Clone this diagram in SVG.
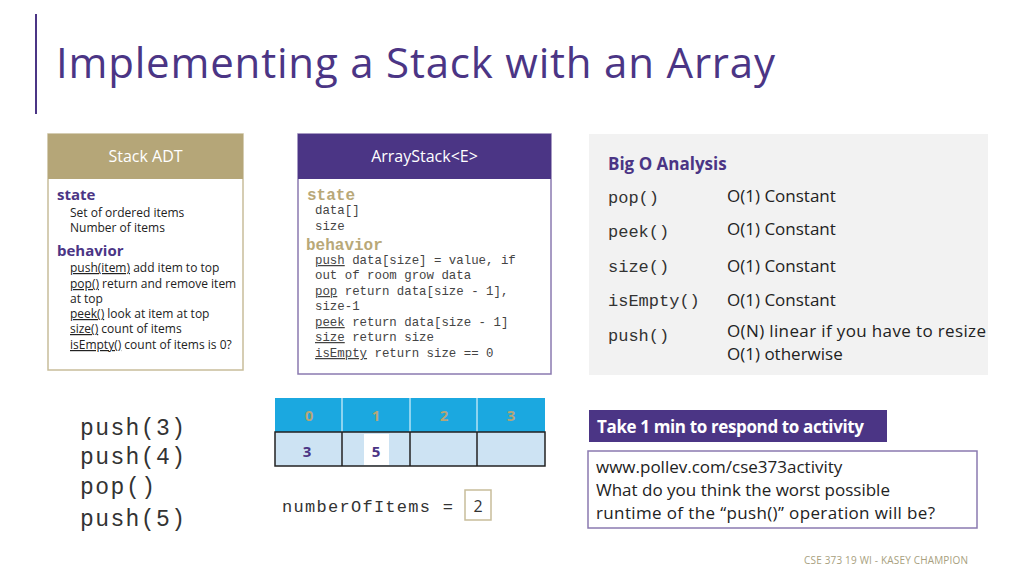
<svg xmlns="http://www.w3.org/2000/svg" width="1024" height="576" viewBox="0 0 1024 576">
<style>
.s{font-family:"Open Sans","Liberation Sans",sans-serif}
.m{font-family:"Liberation Mono",monospace}
.h{font-size:16px;fill:#fff}
.p{fill:#4b3585;font-weight:bold}
.t{font-size:12px;fill:#222}
.c{font-size:12.4px;fill:#444}
.g{fill:#b8a878;font-weight:bold;font-size:16px}
.bo{font-size:17px;fill:#222}
.bm{font-size:17px;fill:#333}
.big{font-size:23px;fill:#333}
</style>
<rect width="1024" height="576" fill="#fff"/>
<line x1="36" y1="14" x2="36" y2="114" stroke="#4b3585" stroke-width="2"/>
<text x="56" y="78" class="s" font-size="42" fill="#4b3585" textLength="719">Implementing a Stack with an Array</text>
<g id="stackADT">
<rect x="48" y="134" width="195" height="236" fill="#fff" stroke="#c8bd9a" stroke-width="1.5"/>
<rect x="48" y="134" width="195" height="45" fill="#b5a678"/>
<text x="145.5" y="162" class="s h" text-anchor="middle">Stack ADT</text>
<text x="57" y="200" class="s p" font-size="15">state</text>
<text x="70" y="217" class="s t">Set of ordered items</text>
<text x="70" y="232" class="s t">Number of items</text>
<text x="57" y="256" class="s p" font-size="15">behavior</text>
<g class="s t">
<text x="70" y="272"><tspan text-decoration="underline">push(item)</tspan> add item to top</text>
<text x="70" y="288"><tspan text-decoration="underline">pop()</tspan> return and remove item</text>
<text x="70" y="303">at top</text>
<text x="70" y="318"><tspan text-decoration="underline">peek()</tspan> look at item at top</text>
<text x="70" y="333"><tspan text-decoration="underline">size()</tspan> count of items</text>
<text x="70" y="349"><tspan text-decoration="underline">isEmpty()</tspan> count of items is 0?</text>
</g>
</g>
<g id="arrayStack">
<rect x="298" y="134" width="253" height="240" fill="#fff" stroke="#8a7ab0" stroke-width="1.5"/>
<rect x="298" y="134" width="253" height="45" fill="#4b3585"/>
<text x="424.5" y="162" class="s h" text-anchor="middle">ArrayStack&lt;E&gt;</text>
<text x="307" y="200" class="m g">state</text>
<text x="315" y="214" class="m c">data[]</text>
<text x="315" y="230" class="m c">size</text>
<text x="306" y="250" class="m g">behavior</text>
<g class="m c">
<text x="315" y="264"><tspan text-decoration="underline">push</tspan> data[size] = value, if</text>
<text x="315" y="279">out of room grow data</text>
<text x="315" y="295"><tspan text-decoration="underline">pop</tspan> return data[size - 1],</text>
<text x="315" y="310">size-1</text>
<text x="315" y="326"><tspan text-decoration="underline">peek</tspan> return data[size - 1]</text>
<text x="315" y="341"><tspan text-decoration="underline">size</tspan> return size</text>
<text x="315" y="357"><tspan text-decoration="underline">isEmpty</tspan> return size == 0</text>
</g>
</g>
<g id="bigO">
<rect x="589" y="134" width="399" height="241" fill="#f2f2f2"/>
<text x="608" y="170" class="s p" font-size="17">Big O Analysis</text>
<text x="608" y="203" class="m bm">pop()</text>
<text x="608" y="237" class="m bm">peek()</text>
<text x="608" y="272" class="m bm">size()</text>
<text x="608" y="306" class="m bm">isEmpty()</text>
<text x="608" y="341" class="m bm">push()</text>
<text x="727" y="202" class="s bo">O(1) Constant</text>
<text x="727" y="235" class="s bo">O(1) Constant</text>
<text x="727" y="272" class="s bo">O(1) Constant</text>
<text x="727" y="306" class="s bo">O(1) Constant</text>
<text x="727" y="337" class="s bo" textLength="259">O(N) linear if you have to resize</text>
<text x="727" y="360" class="s bo">O(1) otherwise</text>
</g>
<g id="ops" class="m big">
<text x="80" y="435" textLength="105">push(3)</text>
<text x="80" y="464" textLength="105">push(4)</text>
<text x="80" y="494" textLength="75">pop()</text>
<text x="80" y="526" textLength="105">push(5)</text>
</g>
<g id="array">
<rect x="275" y="398" width="270" height="34" fill="#1ba8e0"/>
<g stroke="#fff" stroke-width="1"><line x1="342" y1="398" x2="342" y2="432"/><line x1="410" y1="398" x2="410" y2="432"/><line x1="477" y1="398" x2="477" y2="432"/></g>
<g class="s" font-size="15" font-weight="bold" fill="#b5a678" text-anchor="middle">
<text x="309" y="421">0</text><text x="376" y="421">1</text><text x="444" y="421">2</text><text x="511" y="421">3</text></g>
<rect x="275" y="432" width="270" height="34" fill="#cde3f3" stroke="#222" stroke-width="1.5"/>
<g stroke="#222" stroke-width="1.5"><line x1="342" y1="432" x2="342" y2="466"/><line x1="410" y1="432" x2="410" y2="466"/><line x1="477" y1="432" x2="477" y2="466"/></g>
<rect x="364" y="434" width="25" height="31" fill="#fff"/>
<text x="307" y="457" class="s p" font-size="15" text-anchor="middle">3</text>
<text x="376" y="457" class="s p" font-size="15" text-anchor="middle">5</text>
</g>
<g id="count">
<text x="282" y="512" class="m" font-size="17" fill="#333" textLength="171">numberOfItems =</text>
<rect x="465" y="490" width="26" height="30" fill="#fff" stroke="#c8bd9a" stroke-width="1.5"/>
<text x="478" y="512" class="s" font-size="16" fill="#333" text-anchor="middle">2</text>
</g>
<g id="activity">
<rect x="589" y="410" width="298" height="32" fill="#4b3585"/>
<text x="597" y="433" class="s" font-size="17" font-weight="bold" fill="#fff" textLength="267">Take 1 min to respond to activity</text>
<rect x="588" y="451" width="389" height="77" fill="#fff" stroke="#8a7ab0" stroke-width="1.5"/>
<text x="596" y="473" class="s bo">www.pollev.com/cse373activity</text>
<text x="596" y="496" class="s bo">What do you think the worst possible</text>
<text x="596" y="519" class="s bo" textLength="339">runtime of the “push()” operation will be?</text>
</g>
<text x="804" y="564" class="s" font-size="10" fill="#a89f80" textLength="164">CSE 373 19 WI - KASEY CHAMPION</text>
</svg>
